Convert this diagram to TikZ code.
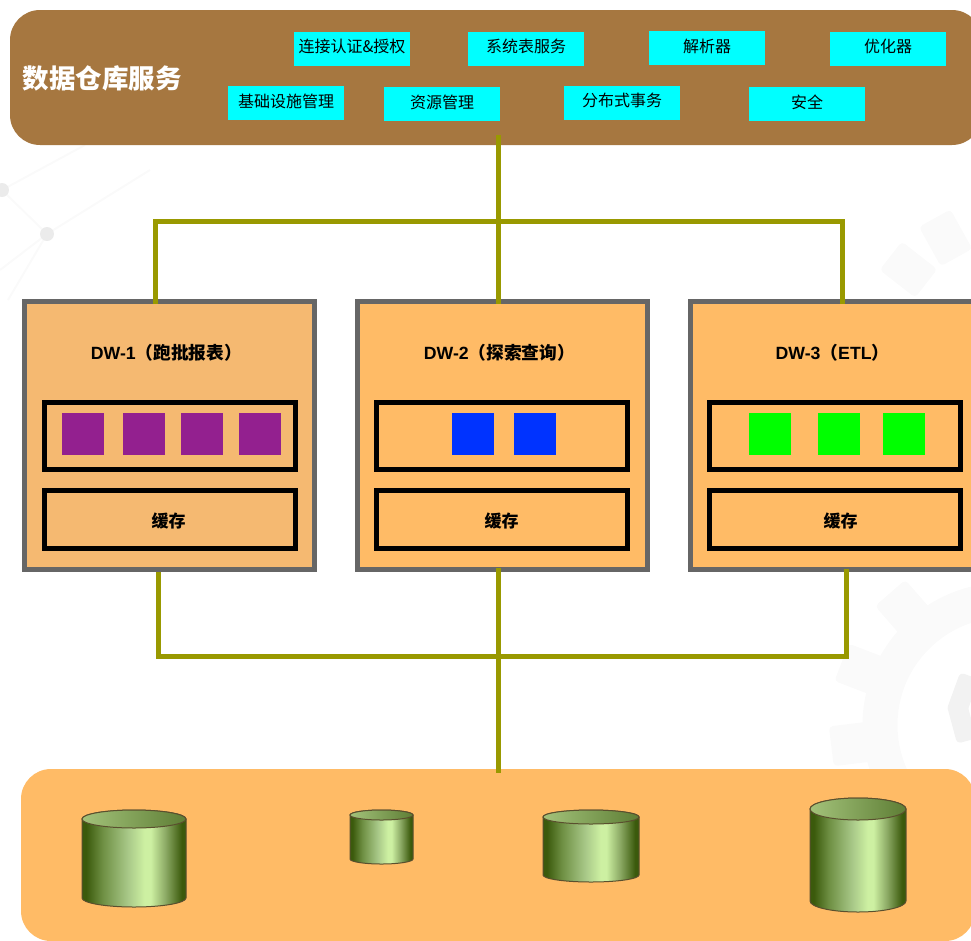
\documentclass[tikz,border=0pt]{standalone}
\usepackage{fontspec}
\setmainfont{Liberation Sans}
\newfontfamily\cjk{Noto Sans CJK SC}
\definecolor{panelbrown}{HTML}{A67740}
\definecolor{paneltan}{HTML}{FFBB66}
\definecolor{dwtan}{HTML}{F5B971}
\definecolor{linkolive}{HTML}{999900}
\definecolor{dwgray}{HTML}{666666}
\definecolor{svccyan}{HTML}{00FFFF}
\definecolor{slotpurple}{HTML}{93208F}
\definecolor{slotblue}{HTML}{0033FF}
\definecolor{slotgreen}{HTML}{00FF00}
\definecolor{cyldark}{HTML}{3B5A0C}
\definecolor{cylmid}{HTML}{6F9044}
\definecolor{cylsoft}{HTML}{A8C888}
\definecolor{cyllight}{HTML}{CDF0A2}
\definecolor{cylside}{HTML}{8DAB66}
\definecolor{cyltop}{HTML}{A3C27A}
\definecolor{cyllow}{HTML}{5E7E35}
\definecolor{cyledge}{HTML}{5A4F2E}
\pgfdeclarehorizontalshading{cylbody}{100bp}{color(0bp)=(cyldark); color(27bp)=(cyldark); color(35bp)=(cylmid); color(47bp)=(cylsoft); color(55bp)=(cyllight); color(58bp)=(cyllight); color(65bp)=(cylside); color(73bp)=(cyldark); color(100bp)=(cyldark)}
\pgfdeclarehorizontalshading{cyllid}{100bp}{color(0bp)=(cyltop); color(25bp)=(cyltop); color(75bp)=(cyllow); color(100bp)=(cyllow)}
\tikzset{
  panelbox/.style={rounded corners=30pt, inner sep=0pt},
  svcbox/.style={fill=svccyan, minimum width=116pt, minimum height=34pt, inner sep=0pt, text height=12pt, text depth=4pt, font=\cjk\fontsize{16}{17}\selectfont},
  dwbox/.style={draw=dwgray, line width=5pt, minimum width=290pt, minimum height=268pt, inner sep=0pt},
  slotbox/.style={draw=black, line width=5pt, minimum width=251pt, inner sep=0pt},
  slot/.style={minimum width=42pt, minimum height=42pt, inner sep=0pt},
  dwlabel/.style={font=\bfseries\fontsize{17.7}{19}\selectfont},
  cachelabel/.style={font=\cjk\bfseries\fontsize{17}{18}\selectfont},
  link/.style={draw=linkolive, line width=5pt},
  bgmark/.style={draw=black!2, line width=2pt}
}
\begin{document}
\begin{tikzpicture}[x=1pt, y=-1pt]
\path[use as bounding box, clip] (0,0) rectangle (971,940);
% Draw faint backdrop
\draw[bgmark] (2,190) -- (47,234) (2,190) -- (85,145) (47,234) -- (150,170) (47,234) -- (8,300) (47,234) -- (0,270);
\fill[black!8] (2,190) circle (7) (47,234) circle (7);
\draw[black!2, line width=35pt] (1005,725) circle (125);
\foreach \a in {131,159,187}
    \fill[black!2, rotate around={\a:(1005,725)}, rounded corners=4pt] (1125,705) rectangle (1180,745);
\foreach \a in {160,195}
    \fill[black!5, rotate around={\a:(1005,710)}, rounded corners=4pt] (1040,690) rectangle (1060,730);
\foreach \a in {119,142}
    \fill[black!2, rotate around={\a:(1005,345)}, rounded corners=4pt] (1105,327) rectangle (1150,363);
% Draw top panel
\node[panelbox, fill=panelbrown, minimum width=972pt, minimum height=135pt] (svc) at (496,77.5) {};
\node[text=white, font=\cjk\bfseries\fontsize{26.5}{28}\selectfont] (svctitle) at (102,78) {数据仓库服务};
\node[svcbox] (auth) at (352,48.5) {连接认证\&授权};
\node[svcbox] (systab) at (526,48.5) {系统表服务};
\node[svcbox] (parser) at (707,48) {解析器};
\node[svcbox] (optim) at (888,48.5) {优化器};
\node[svcbox] (infra) at (286,103) {基础设施管理};
\node[svcbox] (resmgr) at (442,104) {资源管理};
\node[svcbox] (txn) at (622,102.5) {分布式事务};
\node[svcbox] (safety) at (807,104) {安全};
% Draw storage panel
\node[panelbox, fill=paneltan, minimum width=954pt, minimum height=172pt] (store) at (498,855) {};
% Draw warehouses
\node[dwbox, fill=dwtan] (dw1) at (169.5,435.5) {};
\node[dwbox, fill=paneltan] (dw2) at (502,435.5) {};
\node[dwbox, fill=paneltan] (dw3) at (835,435.5) {};
\node[dwlabel] (dw1name) at (166.5,353) {DW-1{\cjk（跑批报表）}};
\node[dwlabel] (dw2name) at (499.5,353) {DW-2{\cjk（探索查询）}};
\node[dwlabel] (dw3name) at (832.5,353) {DW-3{\cjk（}ETL{\cjk）}};
\foreach \n/\x in {1/169.5,2/502,3/835}{
    \node[slotbox, minimum height=67pt] (slots\n) at (\x,436) {};
    \node[slotbox, minimum height=58pt] (cache\n) at (\x,519.5) {};
}
\node[cachelabel] (cache1name) at (168.5,521) {缓存};
\node[cachelabel] (cache2name) at (501.5,521) {缓存};
\node[cachelabel] (cache3name) at (840.5,521) {缓存};
% Draw slots
\foreach \x in {83,144,202,260}
    \node[slot, fill=slotpurple] (p\x) at (\x,434) {};
\foreach \x in {473,535}
    \node[slot, fill=slotblue] (b\x) at (\x,434) {};
\foreach \x in {770,839,904}
    \node[slot, fill=slotgreen] (g\x) at (\x,434) {};
% Draw links
\coordinate (busl) at (155,221);
\coordinate (busm) at (498,221);
\coordinate (busr) at (842,221);
\coordinate (basel) at (158,656);
\coordinate (basem) at (498,656);
\coordinate (baser) at (846,656);
\draw[link] ([yshift=10pt]busm |- svc.south) -- ([yshift=-5pt]busm |- dw2.north);
\draw[link] ([yshift=-5pt]busl |- dw1.north) -- (busl) -- (busr) -- ([yshift=-5pt]busr |- dw3.north);
\draw[link] (basel |- dw1.south) -- (basel) -- (baser) -- ([yshift=3pt]baser |- dw3.south);
\draw[link] ([yshift=4pt]basem |- dw2.south) -- ([yshift=-4pt]basem |- store.north);
% Draw cylinders
\foreach \x/\t/\w/\h/\r in {82/810/104/97/9,350/810/63/54/5,543/810/96/72/7,810/798/96/114/11}{
    \shade[shading=cylbody, draw=cyledge, line width=1pt]
        (\x,\t+\r) -- (\x,\t+\h-\r) arc[start angle=180, end angle=360, x radius=\w/2, y radius=-\r]
        -- (\x+\w,\t+\r) arc[start angle=0, end angle=180, x radius=\w/2, y radius=-\r] -- cycle;
    \shade[shading=cyllid, draw=cyledge, line width=1pt]
        (\x+\w/2,\t+\r) ellipse[x radius=\w/2, y radius=\r];
}
\end{tikzpicture}
\end{document}
